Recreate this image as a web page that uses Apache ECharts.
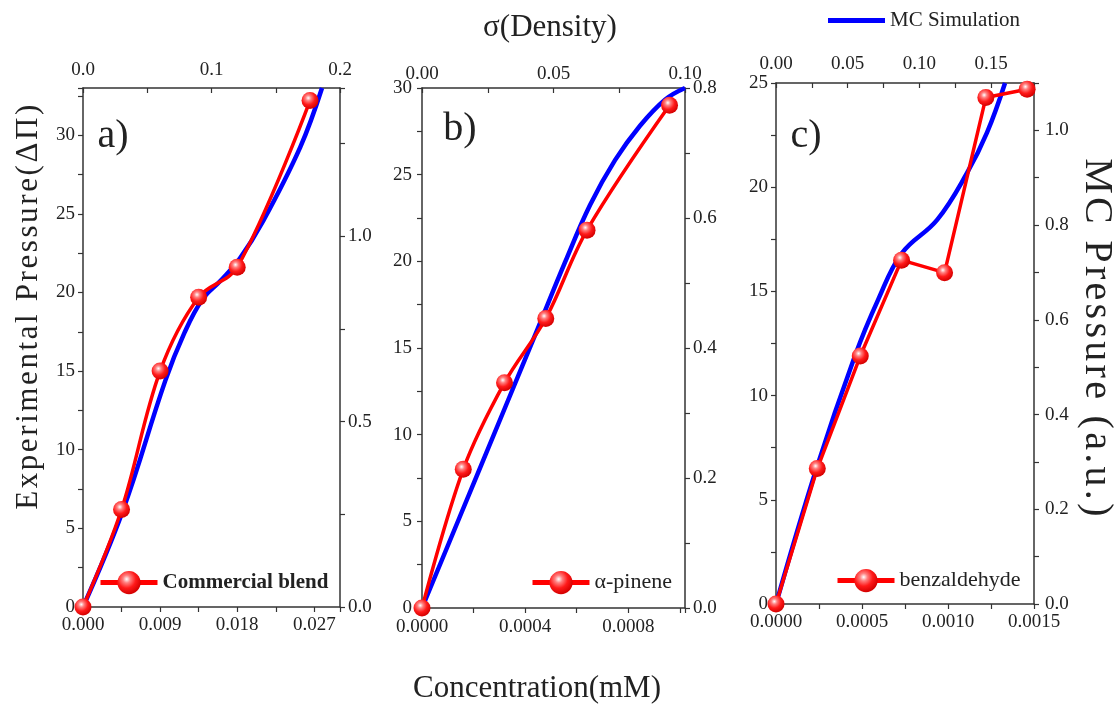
<!DOCTYPE html>
<html><head><meta charset="utf-8">
<script src="https://cdn.jsdelivr.net/npm/echarts@6/dist/echarts.min.js"></script>
<style>html,body{margin:0;padding:0;background:#fff}#c{width:1117px;height:704px}</style>
</head><body><div id="c"></div>
<script>
// ---------- data ----------
// Panel a: Commercial blend
const concA  = [0, 0.0045, 0.009, 0.0135, 0.018, 0.0265];
const pressA = [0, 6.2, 15, 19.7, 21.6, 32.2];
const sigmaA = [0, 0.031, 0.064, 0.079, 0.093, 0.107, 0.122, 0.140, 0.169, 0.186];
const mcA    = [0, 0.26, 0.61, 0.74, 0.83, 0.88, 0.94, 1.04, 1.24, 1.40];
// Panel b: alpha-pinene
const concB  = [0, 0.00016, 0.00032, 0.00048, 0.00064, 0.00096];
const pressB = [0, 8, 13, 16.7, 21.8, 29];
const sigmaB = [0, 0.0213, 0.0422, 0.0544, 0.0639, 0.0734, 0.0829, 0.0924, 0.1];
const mcB    = [0, 0.208, 0.412, 0.532, 0.620, 0.689, 0.742, 0.782, 0.8];
// Panel c: benzaldehyde
const concC  = [0, 0.00024, 0.00049, 0.00073, 0.00098, 0.00122, 0.00146];
const pressC = [0, 6.5, 11.9, 16.5, 15.9, 24.3, 24.7];
const sigmaC = [0, 0.0279, 0.0551, 0.0712, 0.0879, 0.1124, 0.1333, 0.1472, 0.1598];
const mcC    = [0, 0.283, 0.524, 0.642, 0.741, 0.811, 0.910, 0.995, 1.100];

const seriesNames = ['Commercial blend', 'α-pinene', 'benzaldehyde'];
const simName = 'MC Simulation';
const panelLabels = ['a)', 'b)', 'c)'];
const titleTop = 'σ(Density)';
const titleBottom = 'Concentration(mM)';
const titleLeft = 'Experimental Pressure(ΔΠ)';
const titleRight = 'MC Pressure (a.u.)';

// ---------- letter spacing for the stretched vertical titles only ----------
const spacing = {};
spacing[titleLeft] = '2.6px';
spacing[titleRight] = '3.3px';
const origFill = CanvasRenderingContext2D.prototype.fillText;
CanvasRenderingContext2D.prototype.fillText = function (t) {
  const ls = spacing[t];
  if (ls && ('letterSpacing' in this)) {
    this.save();
    this.letterSpacing = ls;
    origFill.apply(this, arguments);
    this.restore();
    this.letterSpacing = '0px';
    return;
  }
  if ('letterSpacing' in this && this.letterSpacing !== '0px') this.letterSpacing = '0px';
  return origFill.apply(this, arguments);
};

const FONT = '"Liberation Serif", "Times New Roman", serif';
const zip = (xs, ys) => xs.map((x, i) => [x, ys[i]]);
const fmt = (step, dec) => v => {
  const r = v / step;
  return Math.abs(r - Math.round(r)) < 1e-6 ? v.toFixed(dec) : '';
};
function mkAxis(grid, pos, max, step, labelStep, dec, margin) {
  return {
    type: 'value', gridIndex: grid, position: pos, min: 0, max: max, interval: step,
    axisLine: { show: true, onZero: false, lineStyle: { color: '#333', width: 1.5 } },
    axisTick: { show: true, inside: pos === 'top', length: 5, lineStyle: { color: '#333', width: 1.2 } },
    axisLabel: { show: true, margin: margin, fontFamily: FONT, fontSize: 19, color: '#222',
      formatter: fmt(labelStep, dec), showMinLabel: true, showMaxLabel: true },
    splitLine: { show: false }
  };
}
const ball = {
  type: 'radial', x: 0.4, y: 0.35, r: 0.65,
  colorStops: [
    { offset: 0, color: '#ffffff' }, { offset: 0.25, color: '#ff8080' },
    { offset: 0.6, color: '#ff1a1a' }, { offset: 1, color: '#d40000' }
  ]
};
function redSeries(name, i, xs, ys, smooth) {
  return {
    name: name, type: 'line', xAxisIndex: i * 2, yAxisIndex: i * 2,
    data: zip(xs, ys), smooth: smooth, symbol: 'circle', symbolSize: 17,
    lineStyle: { color: '#ff0000', width: 3.5 }, itemStyle: { color: ball },
    z: 3
  };
}
function blueSeries(i, xs, ys) {
  return {
    name: simName, type: 'line', xAxisIndex: i * 2 + 1, yAxisIndex: i * 2 + 1,
    data: zip(xs, ys), smooth: 0.4, symbol: 'none', showSymbol: false,
    lineStyle: { color: '#0000ff', width: 4.5 }, itemStyle: { color: '#0000ff' },
    z: 2
  };
}
const legendText = { fontFamily: FONT, fontSize: 22, color: '#222' };
const legendLine = { width: 5 };

const option = {
  backgroundColor: '#ffffff',
  animation: false,
  grid: [
    { left: 83, top: 88, width: 257, height: 519, outerBoundsMode: 'none' },
    { left: 422, top: 88, width: 263, height: 520, outerBoundsMode: 'none' },
    { left: 776, top: 83, width: 258, height: 521, outerBoundsMode: 'none' }
  ],
  xAxis: [
    mkAxis(0, 'bottom', 0.030, 0.0045, 0.009, 3, 9),
    mkAxis(0, 'top', 0.2, 0.05, 0.1, 1, 8),
    mkAxis(1, 'bottom', 0.00102, 0.0002, 0.0004, 4, 10),
    mkAxis(1, 'top', 0.1, 0.025, 0.05, 2, 4),
    mkAxis(2, 'bottom', 0.0015, 0.00025, 0.0005, 4, 9),
    mkAxis(2, 'top', 0.18, 0.025, 0.05, 2, 9)
  ],
  yAxis: [
    mkAxis(0, 'left', 33, 2.5, 5, 0, 8),
    mkAxis(0, 'right', 1.4, 0.25, 0.5, 1, 8),
    mkAxis(1, 'left', 30, 2.5, 5, 0, 10),
    mkAxis(1, 'right', 0.8, 0.1, 0.2, 1, 8),
    mkAxis(2, 'left', 25, 2.5, 5, 0, 8),
    mkAxis(2, 'right', 1.1, 0.1, 0.2, 1, 11)
  ],
  legend: [
    { data: [{ name: simName, icon: 'rect' }], left: 828, top: 10, padding: 0, itemWidth: 57, itemHeight: 5,
      textStyle: { fontFamily: FONT, fontSize: 21, color: '#222' } },
    { data: [seriesNames[0]], left: 98, top: 571, padding: 0, itemWidth: 57, itemHeight: 29,
      lineStyle: legendLine,
      textStyle: Object.assign({}, legendText, { fontSize: 21, fontWeight: 'bold' }) },
    { data: [seriesNames[1]], left: 530, top: 571, padding: 0, itemWidth: 57, itemHeight: 29,
      lineStyle: legendLine, textStyle: legendText },
    { data: [seriesNames[2]], left: 835, top: 569, padding: 0, itemWidth: 57, itemHeight: 29,
      lineStyle: legendLine, textStyle: legendText }
  ],
  graphic: [
    { type: 'text', x: 550, y: 28, style: { text: titleTop, font: '31px ' + FONT, fill: '#222', textAlign: 'center', textVerticalAlign: 'middle' } },
    { type: 'text', x: 537, y: 689, style: { text: titleBottom, font: '31px ' + FONT, fill: '#222', textAlign: 'center', textVerticalAlign: 'middle' } },
    { type: 'text', x: 29, y: 306, rotation: Math.PI / 2, style: { text: titleLeft, font: '31px ' + FONT, fill: '#222', textAlign: 'center', textVerticalAlign: 'middle' } },
    { type: 'text', x: 1096, y: 339, rotation: -Math.PI / 2, style: { text: titleRight, font: '40px ' + FONT, fill: '#222', textAlign: 'center', textVerticalAlign: 'middle' } },
    { type: 'text', x: 113, y: 136, style: { text: panelLabels[0], font: '40px ' + FONT, fill: '#222', textAlign: 'center', textVerticalAlign: 'middle' } },
    { type: 'text', x: 460, y: 129, style: { text: panelLabels[1], font: '40px ' + FONT, fill: '#222', textAlign: 'center', textVerticalAlign: 'middle' } },
    { type: 'text', x: 806, y: 136, style: { text: panelLabels[2], font: '40px ' + FONT, fill: '#222', textAlign: 'center', textVerticalAlign: 'middle' } }
  ],
  series: [
    blueSeries(0, sigmaA, mcA),
    blueSeries(1, sigmaB, mcB),
    blueSeries(2, sigmaC, mcC),
    redSeries(seriesNames[0], 0, concA, pressA, 0.35),
    redSeries(seriesNames[1], 1, concB, pressB, 0.35),
    redSeries(seriesNames[2], 2, concC, pressC, false)
  ]
};
const chart = echarts.init(document.getElementById('c'), null, { renderer: 'canvas' });
chart.setOption(option);
</script>
</body></html>
